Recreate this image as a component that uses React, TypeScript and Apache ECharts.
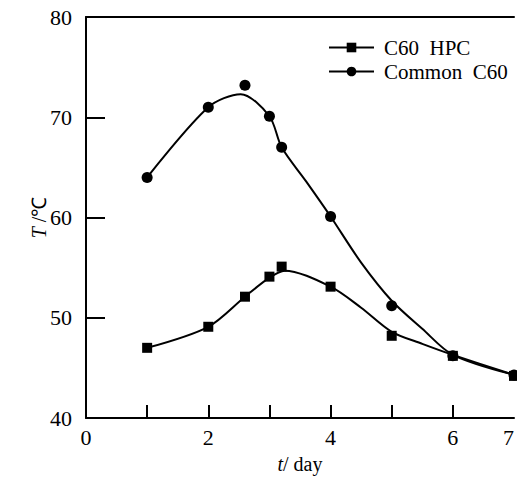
import React, { useEffect, useRef } from "react";
import * as echarts from "echarts";

const hpcPoints: number[][] = [
  [1, 47.0], [2, 49.1], [2.6, 52.1], [3, 54.1], [3.2, 55.1], [4, 53.1], [5, 48.2], [6, 46.2], [7, 44.2],
];
const commonPoints: number[][] = [
  [1, 64.0], [2, 71.0], [2.6, 73.2], [3, 70.1], [3.2, 67.0], [4, 60.1], [5, 51.2], [6, 46.2], [7, 44.3],
];
const hpcCurve: number[][] = [
  [1, 47.0], [2, 49.1], [2.6, 52.1], [3, 54.0], [3.25, 54.7], [4, 53.1], [4.5, 51.0], [5, 48.6], [5.5, 47.4], [6, 46.3], [7, 44.3],
];
const commonCurve: number[][] = [
  [1, 64.0], [2, 71.0], [2.53, 72.3], [3, 70.1], [3.2, 67.0], [3.6, 63.6], [4, 60.1], [4.5, 55.5], [5, 51.7], [5.5, 48.9], [6, 46.3], [7, 44.3],
];
const xLabelValues = [0, 2, 4, 6, 7];
const xTickValues = [1, 2, 3, 4, 5, 6];
const yTickValues = [50, 60, 70];
const seriesNames = ["C60\u00a0\u00a0HPC", "Common\u00a0\u00a0C60"];

const FONT = "Liberation Serif";

export default function App() {
  const ref = useRef<HTMLDivElement>(null);
  useEffect(() => {
    if (!ref.current) return;
    const chart = echarts.init(ref.current, null, { renderer: "svg" });
    const black = "#000";
    chart.setOption({
      animation: false,
      backgroundColor: "#fff",
      textStyle: { fontFamily: FONT, color: black },
      grid: { left: 86, top: 17, bottom: 66, right: 0, containLabel: false },
      legend: {
        orient: "vertical",
        left: 323,
        top: 32,
        itemWidth: 45,
        itemHeight: 12,
        itemGap: 3,
        data: seriesNames,
        textStyle: { fontFamily: FONT, fontSize: 21, color: black, padding: [0, 0, 0, 5] },
      },
      xAxis: [
        {
          type: "value",
          min: 0,
          max: 7,
          interval: 1,
          name: "{i|t}/ day",
          nameLocation: "middle",
          nameGap: 36,
          nameMoveOverlap: false,
          nameTextStyle: {
            fontFamily: FONT,
            fontSize: 20,
            color: black,
            rich: { i: { fontStyle: "italic", fontFamily: FONT, fontSize: 20, color: black } },
          },
          axisLine: { show: true, onZero: false, lineStyle: { color: black, width: 2 } },
          axisTick: { show: true, inside: true, length: 13, customValues: xTickValues, lineStyle: { color: black, width: 2 } },
          axisLabel: {
            customValues: xLabelValues,
            fontFamily: FONT,
            fontSize: 22,
            color: black,
            margin: 8,
            alignMaxLabel: "right",
          },
          splitLine: { show: false },
        },
        {
          type: "value",
          position: "top",
          min: 0,
          max: 7,
          axisLine: { show: true, onZero: false, lineStyle: { color: black, width: 2 } },
          axisTick: { show: false },
          axisLabel: { show: false },
          splitLine: { show: false },
        },
      ],
      yAxis: {
        type: "value",
        min: 40,
        max: 80,
        interval: 10,
        name: "{i|T} /℃",
        nameLocation: "middle",
        nameRotate: 90,
        nameGap: 37,
        nameMoveOverlap: false,
        nameTextStyle: {
          fontFamily: FONT,
          fontSize: 20,
          color: black,
          rich: { i: { fontStyle: "italic", fontFamily: FONT, fontSize: 20, color: black } },
        },
        axisLine: { show: true, onZero: false, lineStyle: { color: black, width: 2 } },
        axisTick: { show: true, inside: true, length: 19, customValues: yTickValues, lineStyle: { color: black, width: 2 } },
        axisLabel: { fontFamily: FONT, fontSize: 22, color: black, margin: 14 },
        splitLine: { show: false },
      },
      series: [
        {
          name: seriesNames[0],
          type: "line",
          data: hpcCurve,
          smooth: 0.3,
          symbol: "rect",
          showSymbol: false,
          lineStyle: { color: black, width: 2 },
          itemStyle: { color: black },
        },
        {
          name: seriesNames[1],
          type: "line",
          data: commonCurve,
          smooth: 0.3,
          symbol: "circle",
          showSymbol: false,
          lineStyle: { color: black, width: 2 },
          itemStyle: { color: black },
        },
        {
          name: "hpcMarkers",
          type: "scatter",
          data: hpcPoints,
          symbol: "rect",
          symbolSize: 10,
          itemStyle: { color: black, opacity: 1 },
        },
        {
          name: "commonMarkers",
          type: "scatter",
          data: commonPoints,
          symbol: "circle",
          symbolSize: 11,
          itemStyle: { color: black, opacity: 1 },
        },
      ],
    });
    return () => chart.dispose();
  }, []);
  return (
    <div
      ref={ref}
      style={{ position: "fixed", left: 0, top: 0, width: 517, height: 484 }}
    />
  );
}
